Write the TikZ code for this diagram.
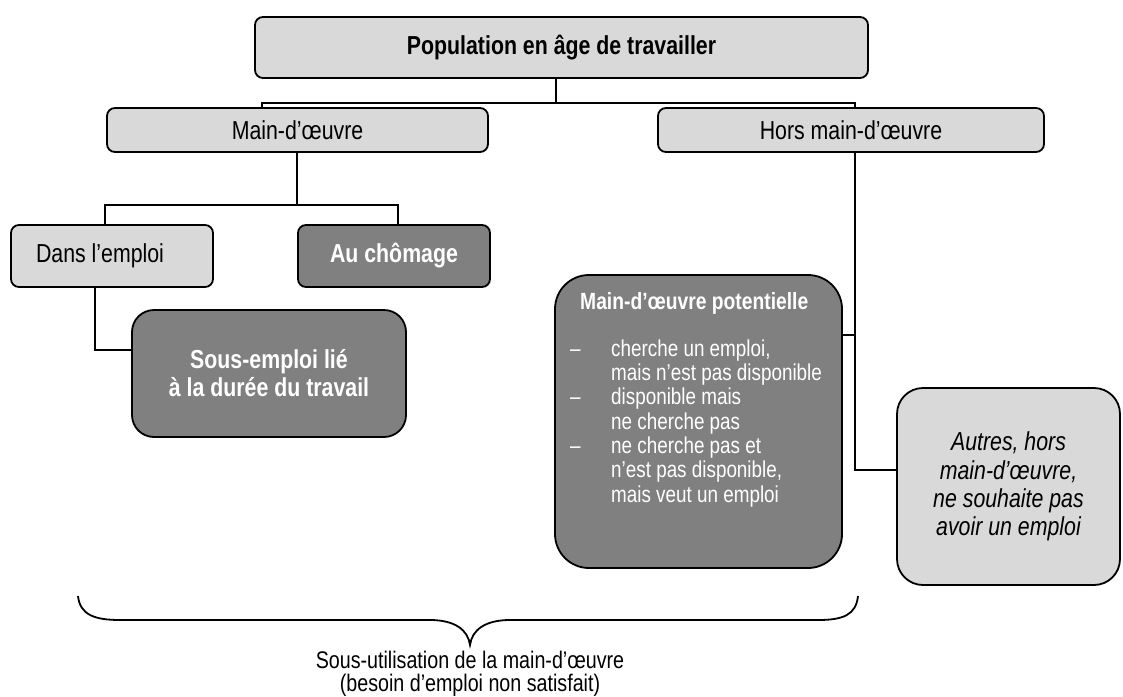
\documentclass[tikz,border=0pt]{standalone}
\usepackage{fontspec}
\setmainfont{Liberation Sans}[FakeStretch=0.82]
\usetikzlibrary{calc}
\definecolor{lightbox}{HTML}{D9D9D9}
\definecolor{darkbox}{HTML}{808080}
\tikzset{
  box/.style={draw=black, line width=1.8pt, rounded corners=8pt, inner sep=0pt, align=center,
    font=\fontsize{26}{28}\selectfont},
  lightb/.style={box, fill=lightbox},
  darkb/.style={box, fill=darkbox, text=white, font=\fontsize{26}{28}\selectfont\bfseries},
  conn/.style={draw=black, line width=1.5pt},
  plain/.style={inner sep=0pt, align=center},
}
\begin{document}
\begin{tikzpicture}[x=1pt,y=-1pt]
\useasboundingbox (0,0) rectangle (1123,696);
% boxes
\node[lightb, minimum width=613pt, minimum height=61pt, font=\fontsize{26}{28}\selectfont\bfseries] (top) at (561.5,47.5) {Population en âge de travailler};
\node[lightb, minimum width=381pt, minimum height=44pt] (mo) at (297.5,130) {Main-d’œuvre};
\node[lightb, minimum width=386pt, minimum height=44pt] (hmo) at (851,130) {Hors main-d’œuvre};
\node[lightb, minimum width=202pt, minimum height=62pt, align=left] (dans) at (112,256) {Dans l’emploi\hspace*{24pt}};
\node[darkb, minimum width=192pt, minimum height=62pt] (chom) at (394,256) {Au chômage};
\node[darkb, rounded corners=22pt, minimum width=274pt, minimum height=127pt] (sous) at (269,373.5) {Sous-emploi lié\\à la durée du travail};
\node[darkb, rounded corners=34pt, minimum width=287pt, minimum height=293pt] (pot) at (698.5,421.5) {};
\node[lightb, rounded corners=26pt, minimum width=223pt, minimum height=197pt, font=\fontsize{26}{28.3}\selectfont\itshape] (autres) at (1008.5,486.5) {Autres, hors\\main-d’œuvre,\\ne souhaite pas\\avoir un emploi};
% content of potential labour force box
\node[plain, anchor=west, text=white, font=\fontsize{23.5}{25}\selectfont\bfseries] (pottitle) at (580,303) {Main-d’œuvre potentielle};
\node[plain, anchor=north west, text=white, font=\fontsize{23}{24.3}\selectfont] (potlist) at (570,339)
 {\begin{tabular}{@{}p{41pt}@{}l@{}}
  – & cherche un emploi,\\
    & mais n’est pas disponible\\
  – & disponible mais\\
    & ne cherche pas\\
  – & ne cherche pas et\\
    & n’est pas disponible,\\
    & mais veut un emploi
  \end{tabular}};
% connectors
\coordinate (jt) at (556,103);
\coordinate (jl) at (262,103);
\coordinate (jr) at (855,103);
\draw[conn] (top.south -| jt) -- (jt);
\draw[conn] (jl |- mo.north) -- (jl) -- (jr) -- (jr |- hmo.north);
\coordinate (jm) at (297,205);
\coordinate (jd) at (105,205);
\coordinate (jc) at (398,205);
\draw[conn] (mo.south -| jm) -- (jm);
\draw[conn] (jd |- dans.north) -- (jd) -- (jc) -- (jc |- chom.north);
\coordinate (js) at (95,350);
\draw[conn] (dans.south -| js) -- (js) -- (sous.west |- js);
\coordinate (jh) at (855,470);
\coordinate (jp) at (855,335);
\draw[conn] (hmo.south -| jh) -- (jh) -- (autres.west |- jh);
\draw[conn] (pot.east |- jp) -- (jp);
% brace
\draw[line width=1.8pt] (78,596) .. controls (80,615) and (95,620) .. (120,620) -- (430,620)
  .. controls (455,620) and (468,630) .. (470,645)
  .. controls (472,630) and (485,620) .. (510,620) -- (818,620)
  .. controls (843,620) and (856,615) .. (858,596);
\node[plain, font=\fontsize{24}{23}\selectfont] (under) at (470,674) {Sous-utilisation de la main-d’œuvre\\(besoin d’emploi non satisfait)};
\end{tikzpicture}
\end{document}
